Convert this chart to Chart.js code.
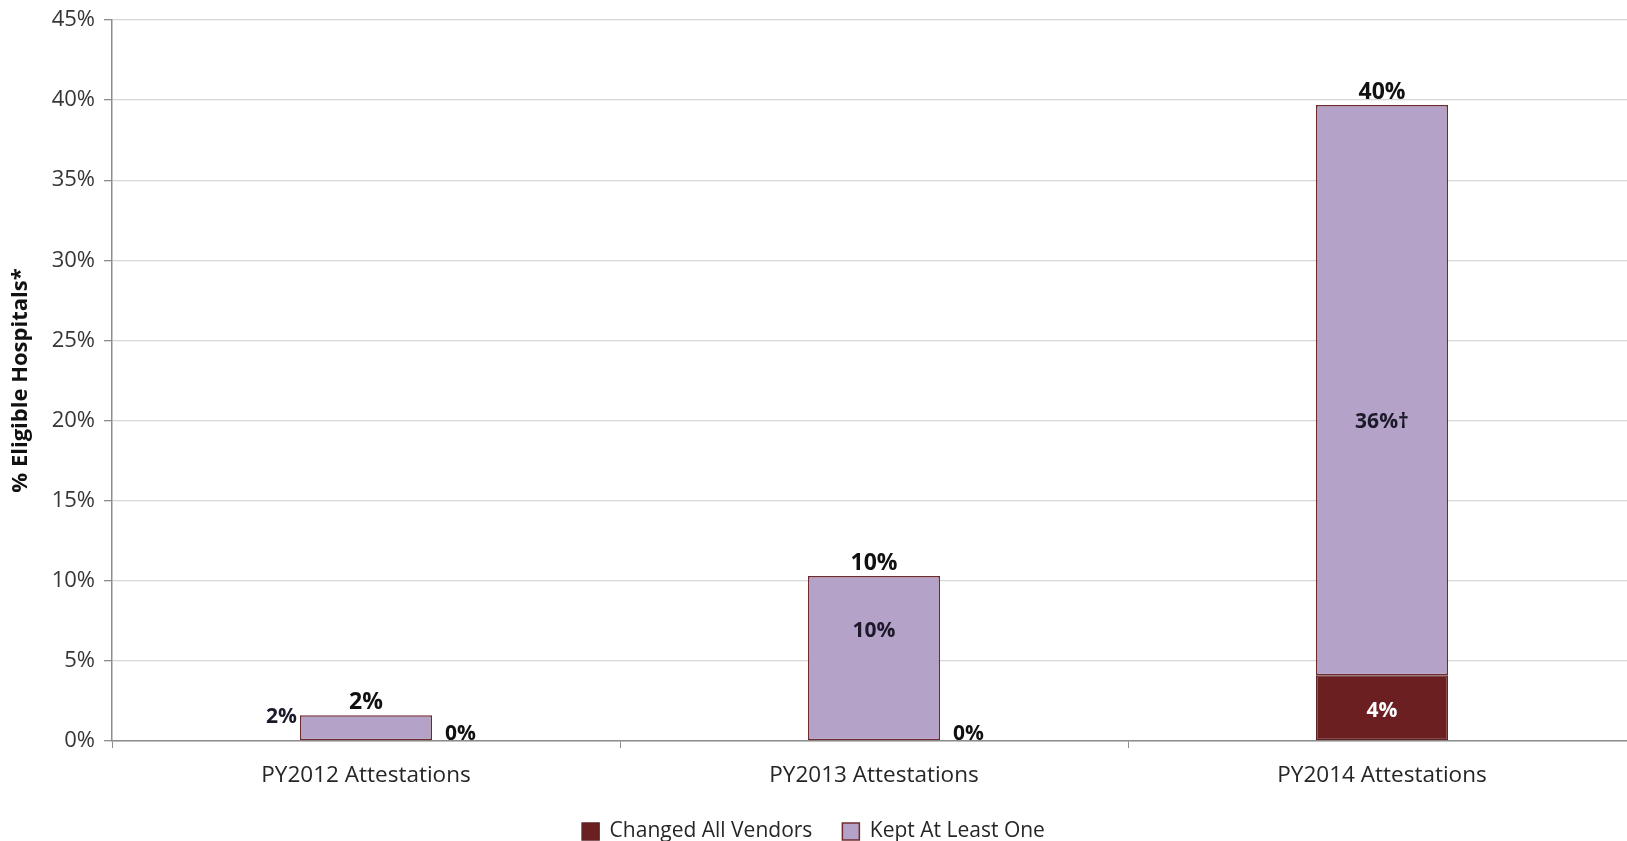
<!DOCTYPE html>
<html>
<head>
<meta charset="utf-8">
<script src="https://cdn.jsdelivr.net/npm/chart.js@4.4.0/dist/chart.umd.min.js"></script>
<style>
  html, body { margin: 0; padding: 0; background: #fff; }
  canvas { display: block; }
</style>
</head>
<body>
<canvas id="myChart" width="1627" height="841"></canvas>
<script>
// data (percent of eligible hospitals)
var categories = ['PY2012 Attestations', 'PY2013 Attestations', 'PY2014 Attestations'];
var changedAll = [0, 0, 4.1];
var keptOne = [1.6, 10.3, 35.6];
var changedLabels = ['0%', '0%', '4%'];
var keptLabels = ['2%', '10%', '36%\u2020'];
var totalLabels = ['2%', '10%', '40%'];
var yTicks = [0, 5, 10, 15, 20, 25, 30, 35, 40, 45];

// where the "kept" label sits (the original placed them by hand)
var keptLabelPlace = ['left', 'inside', 'inside'];
var keptLabelDy = [0, -27, 32];

var FONT = '"Open Sans", "Noto Sans", sans-serif';

// plot box of the original: top 20, bottom 741, left 112, runs past the right edge
var PLOT = { top: 20, bottom: 741, right: 1636 };

var barLabels = {
    id: 'barLabels',
    afterLayout: function (chart) {
        var xs = chart.scales.x;
        var ys = chart.scales.y;
        var xh = xs.bottom - xs.top;
        xs.right = PLOT.right;
        xs.width = xs.right - xs.left;
        xs.top = PLOT.bottom;
        xs.bottom = PLOT.bottom + xh;
        xs.configure();
        ys.top = PLOT.top;
        ys.bottom = PLOT.bottom;
        ys.height = ys.bottom - ys.top;
        ys.configure();
        var ca = chart.chartArea;
        ca.top = PLOT.top;
        ca.bottom = PLOT.bottom;
        ca.right = PLOT.right;
        ca.width = ca.right - ca.left;
        ca.height = ca.bottom - ca.top;
    },
    afterDatasetsDraw: function (chart) {
        var ctx = chart.ctx;
        var mChanged = chart.getDatasetMeta(0);
        var mKept = chart.getDatasetMeta(1);
        ctx.save();
        for (var i = 0; i < categories.length; i++) {
            var ch = mChanged.data[i];
            var kp = mKept.data[i];
            var half = kp.width / 2;

            // total on top
            ctx.font = 'bold 23px ' + FONT;
            ctx.fillStyle = '#111';
            ctx.textAlign = 'center';
            ctx.textBaseline = 'bottom';
            ctx.fillText(totalLabels[i], kp.x, kp.y - 1);

            // kept at least one
            ctx.font = 'bold 21px ' + FONT;
            ctx.fillStyle = '#1c1a2a';
            ctx.textBaseline = 'middle';
            if (keptLabelPlace[i] === 'left') {
                ctx.textAlign = 'right';
                ctx.fillText(keptLabels[i], kp.x - half - 3, kp.y + 2);
            } else {
                ctx.textAlign = 'center';
                ctx.fillText(keptLabels[i], kp.x, (kp.y + kp.base) / 2 + keptLabelDy[i]);
            }

            // changed all vendors
            if (changedAll[i] === 0) {
                ctx.fillStyle = '#111';
                ctx.textAlign = 'left';
                ctx.fillText(changedLabels[i], ch.x + half + 13, ch.base - 7);
            } else {
                ctx.fillStyle = '#fff';
                ctx.textAlign = 'center';
                ctx.fillText(changedLabels[i], ch.x, (ch.y + ch.base) / 2 + 3);
            }
        }
        ctx.restore();
    }
};

var ctxChart = document.getElementById('myChart').getContext('2d');
var myChart = new Chart(ctxChart, {
    type: 'bar',
    data: {
        labels: categories,
        datasets: [{
            label: 'Changed All Vendors',
            data: changedAll,
            backgroundColor: '#6c1f21',
            borderColor: '#5e2326',
            borderWidth: 1.5,
            borderSkipped: false
        }, {
            label: 'Kept At Least One',
            data: keptOne,
            backgroundColor: '#b4a2c8',
            borderColor: '#6e2c30',
            borderWidth: 1.5,
            borderSkipped: false
        }]
    },
    options: {
        responsive: false,
        animation: false,
        devicePixelRatio: 1,
        layout: { padding: { top: 14, right: 0, bottom: -11, left: 0 } },
        datasets: {
            bar: { categoryPercentage: 1.0, barPercentage: 0.26 }
        },
        scales: {
            x: {
                stacked: true,
                grid: {
                    display: true,
                    drawOnChartArea: false,
                    offset: true,
                    color: '#8c8c8c',
                    tickLength: 7
                },
                border: { display: true, color: '#8c8c8c', width: 1.5 },
                ticks: {
                    color: '#262626',
                    font: { family: FONT, size: 22.5 },
                    padding: 14
                },
                afterFit: function (scale) { scale.height = 49; }
            },
            y: {
                stacked: true,
                min: 0,
                max: 45,
                afterBuildTicks: function (scale) {
                    scale.ticks = yTicks.map(function (v) { return { value: v }; });
                },
                grid: {
                    color: '#d6d6d6',
                    lineWidth: 1.3,
                    tickLength: 8,
                    tickColor: '#8c8c8c'
                },
                border: { display: true, color: '#8c8c8c', width: 1.5 },
                ticks: {
                    color: '#363636',
                    font: { family: FONT, size: 22 },
                    padding: 9,
                    callback: function (v) { return v + '%'; }
                },
                title: {
                    display: true,
                    text: '% Eligible Hospitals*',
                    color: '#111',
                    font: { family: FONT, size: 22, weight: 'bold' },
                    padding: { top: 8, bottom: 4 }
                },
                afterFit: function (scale) { scale.width = 112; }
            }
        },
        plugins: {
            legend: {
                position: 'bottom',
                labels: {
                    color: '#262626',
                    font: { family: FONT, size: 21 },
                    boxWidth: 17,
                    boxHeight: 17,
                    padding: 30
                }
            },
            tooltip: { enabled: false }
        }
    },
    plugins: [barLabels]
});
</script>
</body>
</html>
